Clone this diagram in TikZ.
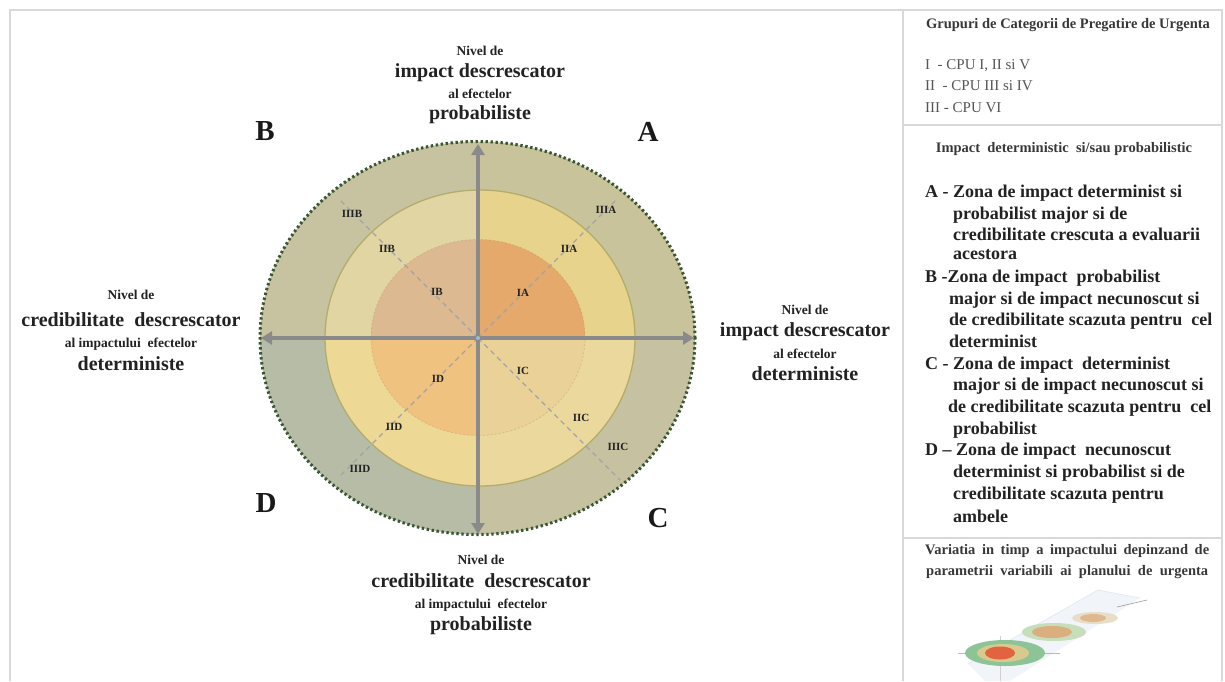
\documentclass[tikz,border=0pt]{standalone}
\usepackage{fontspec}
\setmainfont{Liberation Serif}
\usetikzlibrary{arrows.meta}

% zone fills, one colour per quadrant and ring
\definecolor{outNE}{HTML}{C9C39B}
\definecolor{outNW}{HTML}{C7C3A0}
\definecolor{outSW}{HTML}{B7BCA7}
\definecolor{outSE}{HTML}{C6C2A1}
\definecolor{midNE}{HTML}{E7D38B}
\definecolor{midNW}{HTML}{E0D5A3}
\definecolor{midSW}{HTML}{EDD896}
\definecolor{midSE}{HTML}{EBD89C}
\definecolor{inNE}{HTML}{E4A96B}
\definecolor{inNW}{HTML}{DCB990}
\definecolor{inSW}{HTML}{EFC27F}
\definecolor{inSE}{HTML}{E9D197}
\definecolor{rimgreen}{HTML}{3A5634}
\definecolor{midrim}{HTML}{B3AC6C}
\definecolor{axisgray}{HTML}{8A8A8A}
\definecolor{diaggray}{HTML}{A3A3A3}
\definecolor{framegray}{HTML}{D8D8D8}
\definecolor{txt}{HTML}{222222}
\definecolor{cputxt}{HTML}{555555}
\definecolor{hubblue}{HTML}{9FB8D0}
% colours of the small plane sketch
\definecolor{planefill}{HTML}{EEF3F9}
\definecolor{planeedge}{HTML}{DCE5EF}
\definecolor{crossA}{HTML}{B8B8B8}
\definecolor{crossB}{HTML}{D0D0D0}
\definecolor{spotGa}{HTML}{8CC497}
\definecolor{spotGb}{HTML}{D8C98E}
\definecolor{spotGc}{HTML}{E2633F}
\definecolor{spotMa}{HTML}{C6DEB9}
\definecolor{spotMb}{HTML}{DBAE80}
\definecolor{spotSa}{HTML}{E8DEC8}
\definecolor{spotSb}{HTML}{DFB890}
\definecolor{tailgray}{HTML}{9A9A9A}

\tikzset{
  biglbl/.style={font=\bfseries\fontsize{20}{22}\selectfont, text=txt, inner sep=0pt, anchor=mid},
  smalllbl/.style={font=\bfseries\fontsize{13.5}{15}\selectfont, text=txt, inner sep=0pt, anchor=mid},
  zonelbl/.style={font=\bfseries\fontsize{11}{12}\selectfont, text=txt, inner sep=0pt, anchor=mid},
  quadlbl/.style={font=\bfseries\fontsize{29}{30}\selectfont, text=black!90, inner sep=0pt, anchor=center},
  paneltxt/.style={font=\bfseries\fontsize{18}{20}\selectfont, text=txt, inner sep=0pt, anchor=mid west},
  cpuline/.style={font=\fontsize{15}{16}\selectfont, text=cputxt, inner sep=0pt, anchor=mid west},
  panelhead/.style={font=\bfseries\fontsize{14.5}{16}\selectfont, text=txt!90, inner sep=0pt, anchor=mid},
  framerule/.style={draw=framegray, line width=1.4pt},
  axisline/.style={draw=axisgray, line width=3.6pt,
    {Triangle[width=13pt,length=11pt]}-{Triangle[width=13pt,length=11pt]}},
  diagline/.style={draw=diaggray, line width=1.2pt, dash pattern=on 5pt off 4pt},
}

\begin{document}
\begin{tikzpicture}[x=1pt,y=-1pt]
\useasboundingbox (0,0) rectangle (1225,681);
\fill[white] (0,0) rectangle (1225,681);

% page frame and side panel rules
\draw[framerule] (10,681) -- (10,10) -- (1222,10) -- (1222,681);
\draw[framerule] (903,10) -- (903,681);
\draw[framerule] (903,125) -- (1222,125);
\draw[framerule] (903,538) -- (1222,538);

% quadrant fills of the three zones
\foreach \qx/\qy/\co/\cm/\ci in {
   720/100/outNE/midNE/inNE,
   240/100/outNW/midNW/inNW,
   240/580/outSW/midSW/inSW,
   720/580/outSE/midSE/inSE}{
  \begin{scope}
    \clip (478,338) rectangle (\qx,\qy);
    \fill[\co] (477.5,338) ellipse [x radius=217.5pt, y radius=196.5pt];
    \fill[\cm] (480,338) ellipse [x radius=155pt, y radius=148pt];
    \fill[\ci] (478,337.5) ellipse [x radius=107pt, y radius=98pt];
  \end{scope}
}
% zone borders
\draw[draw=inNE!80!black, opacity=0.3, line width=0.8pt, dash pattern=on 2pt off 2pt]
  (478,337.5) ellipse [x radius=107pt, y radius=98pt];
\draw[midrim, line width=1.3pt] (480,338) ellipse [x radius=155pt, y radius=148pt];
\draw[rimgreen, line width=3pt, dash pattern=on 2.4pt off 2.6pt]
  (477.5,338) ellipse [x radius=217.5pt, y radius=196.5pt];

% diagonal guide lines
\coordinate (ctr) at (478,338);
\coordinate (dNE) at (618,198);
\coordinate (dNW) at (338,198);
\coordinate (dSW) at (340,476);
\coordinate (dSE) at (620,480);
\draw[diagline] (ctr) -- (dNE);
\draw[diagline] (ctr) -- (dNW);
\draw[diagline] (ctr) -- (dSW);
\draw[diagline] (ctr) -- (dSE);

% axes
\coordinate (axT) at (478,144);
\coordinate (axB) at (478,534);
\coordinate (axL) at (261,338);
\coordinate (axR) at (694,338);
\draw[axisline] (axB) -- (axT);
\draw[axisline] (axL) -- (axR);
\fill[hubblue] (ctr) circle [radius=2pt];

% zone labels
\node[zonelbl] (zIIIB) at (352,215) {IIIB};
\node[zonelbl] (zIIB)  at (387,250) {IIB};
\node[zonelbl] (zIB)   at (437,293) {IB};
\node[zonelbl] (zIA)   at (523,294) {IA};
\node[zonelbl] (zIIA)  at (569,250) {IIA};
\node[zonelbl] (zIIIA) at (606,211) {IIIA};
\node[zonelbl] (zIC)   at (523,372) {IC};
\node[zonelbl] (zIIC)  at (581,419) {IIC};
\node[zonelbl] (zIIIC) at (618,448) {IIIC};
\node[zonelbl] (zID)   at (438,380) {ID};
\node[zonelbl] (zIID)  at (394,428) {IID};
\node[zonelbl] (zIIID) at (360,470) {IIID};

% quadrant letters
\node[quadlbl] (qB) at (265,131) {B};
\node[quadlbl] (qA) at (648,132) {A};
\node[quadlbl] (qD) at (266,503) {D};
\node[quadlbl] (qC) at (658,518) {C};

% axis captions
\node[smalllbl] (t1) at (480,53)  {Nivel de};
\node[biglbl]   (t2) at (480,75)  {impact descrescator};
\node[smalllbl] (t3) at (480,96)  {al efectelor};
\node[biglbl]   (t4) at (480,117) {probabiliste};

\node[smalllbl] (l1) at (131,297) {Nivel de};
\node[biglbl]   (l2) at (131,324) {credibilitate\ \ descrescator};
\node[smalllbl] (l3) at (131,345) {al impactului\ \ efectelor};
\node[biglbl]   (l4) at (131,368) {deterministe};

\node[smalllbl] (r1) at (805,312) {Nivel de};
\node[biglbl]   (r2) at (805,334) {impact descrescator};
\node[smalllbl] (r3) at (805,356) {al efectelor};
\node[biglbl]   (r4) at (805,378) {deterministe};

\node[smalllbl] (b1) at (481,562) {Nivel de};
\node[biglbl]   (b2) at (481,585) {credibilitate\ \ descrescator};
\node[smalllbl] (b3) at (481,606) {al impactului\ \ efectelor};
\node[biglbl]   (b4) at (481,628) {probabiliste};

% side panel: groups
\node[panelhead] (g0) at (1068,26) {Grupuri de Categorii de Pregatire de Urgenta};
\node[cpuline] (g1) at (925,67)  {I\ \ - CPU I, II si V};
\node[cpuline] (g2) at (925,88)  {II\ \ - CPU III si IV};
\node[cpuline] (g3) at (925,110) {III - CPU VI};

% side panel: zones
\node[panelhead] (h0) at (1064,150) {Impact\ \ deterministic\ \ si/sau probabilistic};
\node[paneltxt] (a1) at (925,195) {A - Zona de impact determinist si};
\node[paneltxt] (a2) at (953,217) {probabilist major si de};
\node[paneltxt] (a3) at (953,238) {credibilitate crescuta a evaluarii};
\node[paneltxt] (a4) at (953,257) {acestora};
\node[paneltxt] (bb1) at (925,280) {B -Zona de impact\ \ probabilist};
\node[paneltxt] (bb2) at (949,302) {major si de impact necunoscut si};
\node[paneltxt] (bb3) at (949,323) {de credibilitate scazuta pentru\ \ cel};
\node[paneltxt] (bb4) at (949,345) {determinist};
\node[paneltxt] (c1) at (925,367) {C - Zona de impact\ \ determinist};
\node[paneltxt] (c2) at (953,388) {major si de impact necunoscut si};
\node[paneltxt] (c3) at (948,410) {de credibilitate scazuta pentru\ \ cel};
\node[paneltxt] (c4) at (953,432) {probabilist};
\node[paneltxt] (d1) at (925,453) {D – Zona de impact\ \ necunoscut};
\node[paneltxt] (d2) at (953,475) {determinist si probabilist si de};
\node[paneltxt] (d3) at (953,497) {credibilitate scazuta pentru};
\node[paneltxt] (d4) at (953,520) {ambele};

% side panel: time variation
\node[panelhead, anchor=mid west] (v1) at (925,552)
  {\makebox[284pt][s]{Variatia in timp a impactului depinzand de}};
\node[panelhead, anchor=mid west] (v2) at (926,573)
  {\makebox[282pt][s]{parametrii variabili ai planului de urgenta}};

% small sketch: impact zones drifting along a plane
\fill[planefill, opacity=0.8] (968,664) -- (1098,590) -- (1140,598) -- (1010,681) -- (985,681) -- cycle;
\draw[planeedge, line width=0.5pt] (968,664) -- (1098,590) -- (1140,598);
\draw[crossA, line width=0.5pt] (958,653) -- (1060,653);
\draw[crossB, line width=0.5pt] (1000,636) -- (1000,681);
\fill[spotGa] (1005,653) ellipse [x radius=40pt, y radius=13pt];
\fill[spotGb] (1003,653) ellipse [x radius=26pt, y radius=9pt];
\fill[spotGc] (1000,653) ellipse [x radius=15pt, y radius=6.5pt];
\fill[spotMa] (1054,632) ellipse [x radius=32pt, y radius=9pt];
\fill[spotMb] (1052,632) ellipse [x radius=20pt, y radius=6pt];
\fill[spotSa] (1095,618) ellipse [x radius=23pt, y radius=6pt];
\fill[spotSb] (1093,618) ellipse [x radius=13pt, y radius=4pt];
\draw[tailgray, line width=0.6pt] (1117,607) -- (1147,600);
\end{tikzpicture}
\end{document}
